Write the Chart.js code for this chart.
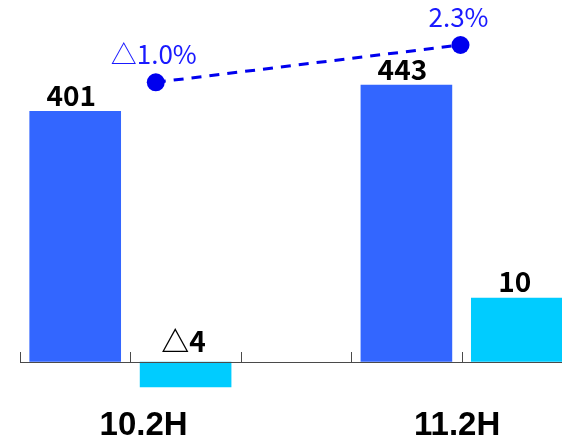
<!DOCTYPE html>
<html>
<head>
<meta charset="utf-8">
<script src="https://cdn.jsdelivr.net/npm/chart.js@4"></script>
<style>
  html, body { margin: 0; padding: 0; background: #fff; overflow: hidden; }
  #wrap { position: absolute; left: 0; top: 0; width: 600px; height: 442px; }
</style>
</head>
<body>
<div id="wrap"><canvas id="chart"></canvas></div>
<script>
// --- Datos ---
const periods = ["10.2H", "11.2H"];
const salesValues = [401, 443];     // barras azules
const changeValues = [-4, 10];      // barras celestes
const rateValues = [-1.0, 2.3];     // línea (%)

// posiciones en la escala auxiliar de la línea (0..5 = 5 huecos)
const rateAt = [1.23, 3.99];
const periodLabelAt = [1.12, 3.96];

// 5 huecos: ventas, cambio, vacío, ventas, cambio
const slots = ["s0", "c0", "gap", "s1", "c1"];
const salesData = [salesValues[0], null, null, salesValues[1], null];
const changeData = [null, changeValues[0], null, null, changeValues[1]];

function fmt(v, digits, suffix) {
  const s = Math.abs(v).toFixed(digits) + (suffix || "");
  return v < 0 ? "△" + s : s;
}

// --- Etiquetas, eje y marcas ---
const labelPlugin = {
  id: "valueLabels",
  afterDatasetsDraw(chart) {
    const ctx = chart.ctx;
    const x = chart.scales.x;
    const xr = chart.scales.xRate;
    const zeroY = Math.round(chart.scales.ySales.getPixelForValue(0));
    const half = (x.getPixelForValue(1) - x.getPixelForValue(0)) / 2;

    ctx.save();
    ctx.strokeStyle = "#4a4a4a";
    ctx.lineWidth = 1;
    ctx.beginPath();
    ctx.moveTo(x.left, zeroY + 0.5);
    ctx.lineTo(x.right, zeroY + 0.5);
    for (let i = 0; i <= slots.length; i++) {
      const px = Math.round(x.getPixelForValue(i) - half) + 0.5;
      ctx.moveTo(px, zeroY);
      ctx.lineTo(px, zeroY - 10);
    }
    ctx.stroke();

    ctx.textAlign = "center";
    ctx.textBaseline = "alphabetic";

    // ventas
    ctx.fillStyle = "#000";
    ctx.font = "bold 28px 'Noto Sans CJK JP'";
    chart.getDatasetMeta(0).data.forEach((bar, i) => {
      const v = salesData[i];
      if (v == null) return;
      ctx.fillText(fmt(v, 0), bar.x - 4, bar.y - 5);
    });

    // cambio
    chart.getDatasetMeta(1).data.forEach((bar, i) => {
      const v = changeData[i];
      if (v == null) return;
      const y = v < 0 ? bar.base - 10 : bar.y - 6;
      ctx.fillText(fmt(v, 0), bar.x - 2, y);
    });

    // tasa
    ctx.fillStyle = "#1a1aff";
    ctx.font = "26px 'Noto Sans CJK JP'";
    chart.getDatasetMeta(2).data.forEach((pt, i) => {
      ctx.fillText(fmt(rateValues[i], 1, "%"), pt.x - 2, pt.y - 18);
    });

    // periodos
    ctx.fillStyle = "#000";
    ctx.font = "bold 33px 'Liberation Sans'";
    periods.forEach((p, i) => {
      ctx.fillText(p, xr.getPixelForValue(periodLabelAt[i]), 435);
    });
    ctx.restore();
  }
};

const ctx = document.getElementById("chart").getContext("2d");
new Chart(ctx, {
  type: "bar",
  data: {
    labels: slots,
    datasets: [
      {
        label: "sales",
        data: salesData,
        backgroundColor: "#3366ff",
        yAxisID: "ySales",
        grouped: false,
        barPercentage: 0.83,
        categoryPercentage: 1,
        order: 2
      },
      {
        label: "change",
        data: changeData,
        backgroundColor: "#00ccff",
        yAxisID: "yChange",
        grouped: false,
        barPercentage: 0.83,
        categoryPercentage: 1,
        order: 2
      },
      {
        type: "line",
        label: "rate",
        data: rateValues.map((v, i) => ({ x: rateAt[i], y: v })),
        xAxisID: "xRate",
        yAxisID: "yRate",
        borderColor: "#0000ee",
        backgroundColor: "#0000ee",
        borderWidth: 3,
        borderDash: [10, 8],
        pointRadius: 9,
        pointBorderWidth: 0,
        fill: false,
        order: 1
      }
    ]
  },
  options: {
    responsive: true,
    maintainAspectRatio: false,
    animation: false,
    layout: { padding: { left: 20, right: 28, top: 12, bottom: 12 } },
    plugins: { legend: { display: false }, tooltip: { enabled: false } },
    scales: {
      x: { display: false, offset: true },
      xRate: { type: "linear", display: false, offset: false, min: 0, max: 5 },
      ySales: { display: false, min: -109.3, max: 559.5 },
      yChange: { display: false, min: -10.67, max: 54.64 },
      yRate: { display: false, min: -31.77, max: 5.22 }
    }
  },
  plugins: [labelPlugin]
});
</script>
</body>
</html>
